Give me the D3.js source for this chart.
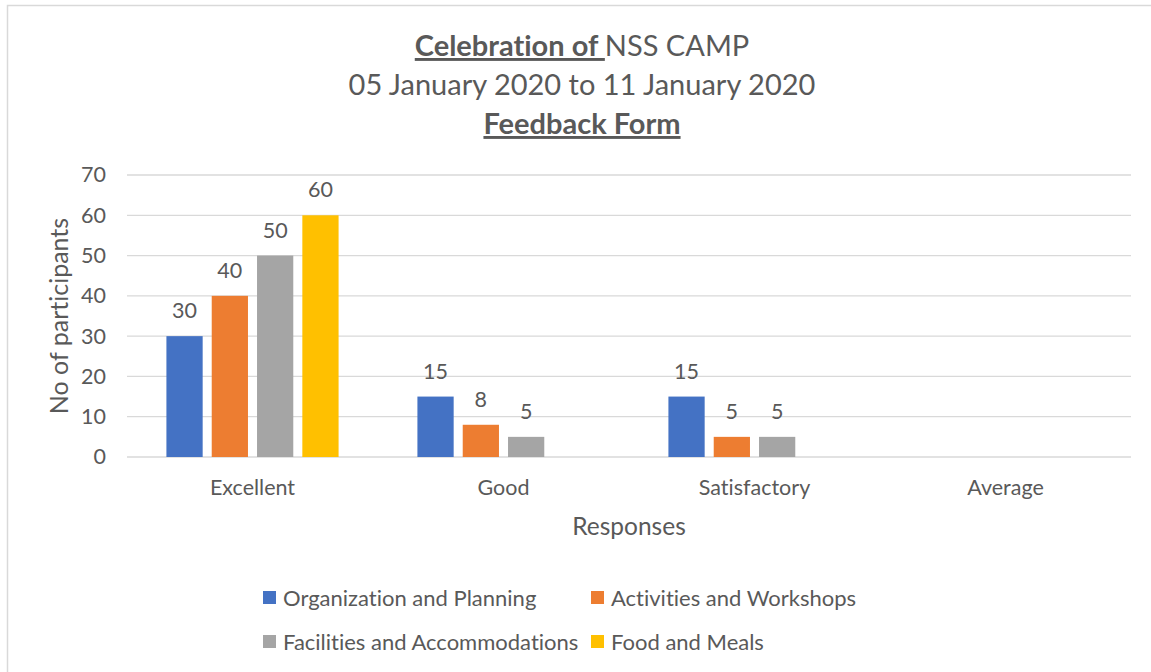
<!DOCTYPE html>
<html>
<head>
<meta charset="utf-8">
<script src="https://cdn.jsdelivr.net/npm/d3@7"></script>
<style>
  body { margin: 0; background: #fff; }
  svg text { font-family: Lato, "Open Sans", sans-serif; fill: #595959; font-variant-ligatures: none; }
</style>
</head>
<body>
<svg id="chart" width="1151" height="672"></svg>
<script>
// chart data
const categories = ["Excellent", "Good", "Satisfactory", "Average"];
const seriesNames = ["Organization and Planning", "Activities and Workshops", "Facilities and Accommodations", "Food and Meals"];
const organization = [30, 15, 15, null];
const activities = [40, 8, 5, null];
const facilities = [50, 5, 5, null];
const food = [60, null, null, null];
const yTicks = [0, 10, 20, 30, 40, 50, 60, 70];
const colors = ["#4472C4", "#ED7D31", "#A5A5A5", "#FFC000"];

const seriesValues = [organization, activities, facilities, food];

const svg = d3.select("#chart");
const margin = { top: 175, left: 127, right: 20, bottom: 215 };
const width = 1131 - margin.left;
const height = 457 - margin.top;

// outer frame (only left and top edges are visible in the picture)
svg.append("rect")
  .attr("x", 7.5).attr("y", 5.5)
  .attr("width", 1160).attr("height", 700)
  .attr("fill", "none")
  .attr("stroke", "#d9d9d9")
  .attr("stroke-width", 1.5);

// title
const title = svg.append("g").attr("text-anchor", "middle");
const t1 = title.append("text").attr("x", 582).attr("y", 56).style("font-size", "29px");
t1.append("tspan").text("Celebration of ").style("font-weight", "bold").style("text-decoration", "underline");
t1.append("tspan").text("NSS CAMP");
title.append("text").attr("x", 582).attr("y", 95).style("font-size", "29px")
  .text("05 January 2020 to 11 January 2020");
title.append("text").attr("x", 582).attr("y", 134).style("font-size", "29px")
  .style("font-weight", "bold").style("text-decoration", "underline")
  .text("Feedback Form");

const g = svg.append("g").attr("transform", `translate(${margin.left},${margin.top})`);

const x0 = d3.scaleBand().domain(categories).range([0, width]).padding(0);
const x1 = d3.scaleBand().domain(seriesNames).range([0, x0.bandwidth()])
  .paddingInner(0.2).paddingOuter(0.87);
const y = d3.scaleLinear().domain([0, 70]).range([height, 0]);

// gridlines
g.selectAll(".grid")
  .data(yTicks)
  .join("line")
  .attr("class", "grid")
  .attr("x1", 0).attr("x2", width)
  .attr("y1", d => y(d)).attr("y2", d => y(d))
  .attr("stroke", "#d9d9d9")
  .attr("stroke-width", 1.3);

// y axis labels
const yAxis = g.append("g").call(d3.axisLeft(y).tickValues(yTicks).tickSize(0).tickPadding(21));
yAxis.select(".domain").remove();
yAxis.selectAll("text").style("font-size", "21.5px").attr("fill", "#595959");

// x axis labels
const xAxis = g.append("g").attr("transform", `translate(0,${height})`)
  .call(d3.axisBottom(x0).tickSize(0).tickPadding(23));
xAxis.select(".domain").remove();
xAxis.selectAll("text").style("font-size", "21.5px").attr("fill", "#595959");

// bars
const flat = [];
categories.forEach((c, i) => {
  seriesNames.forEach((s, j) => {
    if (seriesValues[j][i] != null) flat.push({ cat: c, series: s, value: seriesValues[j][i], color: colors[j] });
  });
});

g.selectAll(".bar")
  .data(flat)
  .join("rect")
  .attr("class", "bar")
  .attr("x", d => x0(d.cat) + x1(d.series))
  .attr("y", d => y(d.value))
  .attr("width", x1.bandwidth())
  .attr("height", d => height - y(d.value))
  .attr("fill", d => d.color);

g.selectAll(".label")
  .data(flat)
  .join("text")
  .attr("class", "label")
  .attr("x", d => x0(d.cat) + x1(d.series) + x1.bandwidth() / 2)
  .attr("y", d => y(d.value) - 18)
  .attr("text-anchor", "middle")
  .style("font-size", "21.5px")
  .text(d => d.value);

// axis titles
svg.append("text")
  .attr("transform", "translate(68,316) rotate(-90)")
  .attr("text-anchor", "middle")
  .style("font-size", "25px")
  .text("No of participants");

svg.append("text")
  .attr("x", 629).attr("y", 535)
  .attr("text-anchor", "middle")
  .style("font-size", "24.5px")
  .text("Responses");

// legend
const legendPos = [[263, 598], [591, 598], [263, 642], [591, 642]];
const legend = svg.selectAll(".legend")
  .data(seriesNames)
  .join("g")
  .attr("class", "legend")
  .attr("transform", (d, i) => `translate(${legendPos[i][0]},${legendPos[i][1]})`);
legend.append("rect")
  .attr("x", 0).attr("y", -7)
  .attr("width", 13).attr("height", 13)
  .attr("fill", (d, i) => colors[i]);
legend.append("text")
  .attr("x", 20).attr("y", 8)
  .style("font-size", "22px")
  .text(d => d);
</script>
</body>
</html>
